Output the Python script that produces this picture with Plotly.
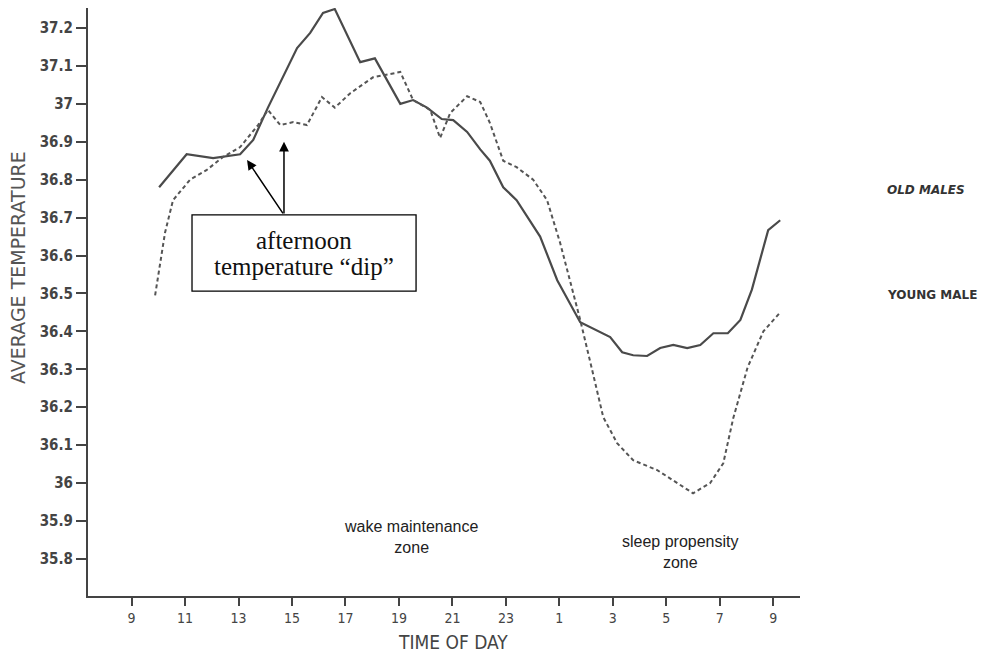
import plotly.graph_objects as go

# Hours on a continuous clock (25 = 1 am next day, etc.)
hours_old = [10.03, 11.06, 12.05, 13.06, 13.55, 14.1, 15.19, 15.68, 16.16, 16.6,
             17.55, 18.1, 19.05, 19.53, 20.05, 20.6, 21.03, 21.55, 22.04, 22.4,
             22.9, 23.4, 24.28, 24.92, 25.78, 26.9, 27.35, 27.76, 28.28, 28.77,
             29.26, 29.78, 30.27, 30.76, 31.3, 31.77, 32.2, 32.81, 33.26]
temp_old = [36.78, 36.867, 36.857, 36.867, 36.905, 36.99, 37.147, 37.187, 37.24, 37.25,
            37.11, 37.12, 37.0, 37.01, 36.99, 36.96, 36.957, 36.926, 36.88, 36.85,
            36.78, 36.746, 36.65, 36.535, 36.424, 36.385, 36.345, 36.337, 36.335, 36.356,
            36.364, 36.356, 36.364, 36.395, 36.395, 36.43, 36.51, 36.667, 36.693]

hours_young = [9.88, 10.25, 10.55, 11.19, 11.8, 12.42, 13.06, 13.73, 14.1, 14.56,
               15.05, 15.56, 16.12, 16.6, 17.18, 18.03, 19.05, 19.53, 20.17, 20.54,
               20.92, 21.55, 22.04, 22.4, 22.9, 23.4, 24.02, 24.54, 25.03, 25.78,
               26.22, 26.64, 27.16, 27.76, 28.66, 29.4, 30.0, 30.64, 31.13, 31.5,
               32.04, 32.63, 33.26]
temp_young = [36.495, 36.66, 36.746, 36.80, 36.825, 36.86, 36.886, 36.944, 36.984, 36.944,
              36.952, 36.944, 37.018, 36.99, 37.028, 37.07, 37.084, 37.01, 36.984, 36.91,
              36.976, 37.02, 37.005, 36.95, 36.85, 36.833, 36.8, 36.746, 36.633, 36.43,
              36.30, 36.174, 36.105, 36.06, 36.034, 36.0, 35.973, 36.0, 36.052, 36.17,
              36.305, 36.40, 36.45]

x_tickvals = [9, 11, 13, 15, 17, 19, 21, 23, 25, 27, 29, 31, 33]
x_ticktext = ["9", "11", "13", "15", "17", "19", "21", "23", "1", "3", "5", "7", "9"]
y_tickvals = [35.8, 35.9, 36.0, 36.1, 36.2, 36.3, 36.4, 36.5, 36.6, 36.7, 36.8, 36.9, 37.0, 37.1, 37.2]
y_ticktext = ["35.8", "35.9", "36", "36.1", "36.2", "36.3", "36.4", "36.5", "36.6", "36.7",
              "36.8", "36.9", "37", "37.1", "37.2"]

# page has an 8px body margin, so the figure is drawn 8px in from the corner
OFF = 8
W, H = 979, 650
ML, MR, MT, MB = 80, 187, 0, 62
PW, PH = W - ML - MR, H - MT - MB


def px(p):
    return (p - OFF - ML) / PW


def py(p):
    return 1 - (p - OFF - MT) / PH


fig = go.Figure()

fig.add_trace(go.Scatter(x=hours_old, y=temp_old, mode="lines",
                         line=dict(color="#4a4a4a", width=2.2), name="Old males"))
fig.add_trace(go.Scatter(x=hours_young, y=temp_young, mode="lines",
                         line=dict(color="#555555", width=2, dash="4px,3px"), name="Young males"))

# callout box
fig.add_shape(type="rect", x0=11.26, x1=19.64, y0=36.506, y1=36.707,
              line=dict(color="black", width=1.3), fillcolor="white", layer="above")
serif = dict(family="Liberation Serif, Times New Roman, serif", size=25, color="#111")
fig.add_annotation(x=15.45, y=36.64, text="afternoon", showarrow=False, font=serif,
                   xanchor="center", yanchor="middle")
fig.add_annotation(x=15.45, y=36.571, text="temperature \u201cdip\u201d", showarrow=False,
                   font=serif, xanchor="center", yanchor="middle")
for tx, ty in [(13.32, 36.852), (14.7, 36.9)]:
    fig.add_annotation(x=tx, y=ty, ax=14.7, ay=36.707, xref="x", yref="y",
                       axref="x", ayref="y", text="", showarrow=True,
                       arrowhead=2, arrowsize=1.3, arrowwidth=1.5, arrowcolor="black")

sans = "Liberation Sans, Arial, sans-serif"
cond = "DejaVu Sans Condensed, DejaVu Sans, sans-serif"


def label(x, y, text, font, xanchor="center", angle=0):
    fig.add_annotation(xref="paper", yref="paper", x=px(x), y=py(y), text=text,
                       showarrow=False, xanchor=xanchor, yanchor="middle",
                       textangle=angle, font=font)


label(411, 537, "wake maintenance<br>zone", dict(family=sans, size=16, color="#222"))
label(680, 552, "sleep propensity<br>zone", dict(family=sans, size=16, color="#222"))
label(885, 190, "<b><i>OLD MALES</i></b>",
      dict(family="DejaVu Sans, sans-serif", size=12, color="#333"), xanchor="left")
label(885, 295, "<b>YOUNG MALE</b>",
      dict(family="DejaVu Sans, sans-serif", size=12, color="#333"), xanchor="left")
label(18, 268, "AVERAGE TEMPERATURE",
      dict(family="DejaVu Sans, sans-serif", size=19, color="#555"), angle=-90)
label(453, 642, "TIME OF DAY", dict(family=cond, size=19, color="#444"))

fig.update_layout(
    width=W, height=H,
    margin=dict(l=ML, r=MR, t=MT, b=MB),
    plot_bgcolor="white", paper_bgcolor="white",
    showlegend=False,
    xaxis=dict(range=[7.37, 34.0], tickvals=x_tickvals, ticktext=x_ticktext,
               showgrid=False, zeroline=False, showline=True, linecolor="#444", linewidth=2,
               ticks="outside", ticklen=8, tickwidth=1.5, tickcolor="#444",
               tickfont=dict(family=cond, size=14, color="#444")),
    yaxis=dict(range=[35.702, 37.2528], tickvals=y_tickvals,
               ticktext=["<b>" + t + "</b>" for t in y_ticktext],
               showgrid=False, zeroline=False, showline=True, linecolor="#444", linewidth=2,
               ticks="outside", ticklen=10, tickwidth=1.5, tickcolor="#444",
               tickfont=dict(family=cond, size=15, color="#444")),
)

fig.write_html("out.html")
